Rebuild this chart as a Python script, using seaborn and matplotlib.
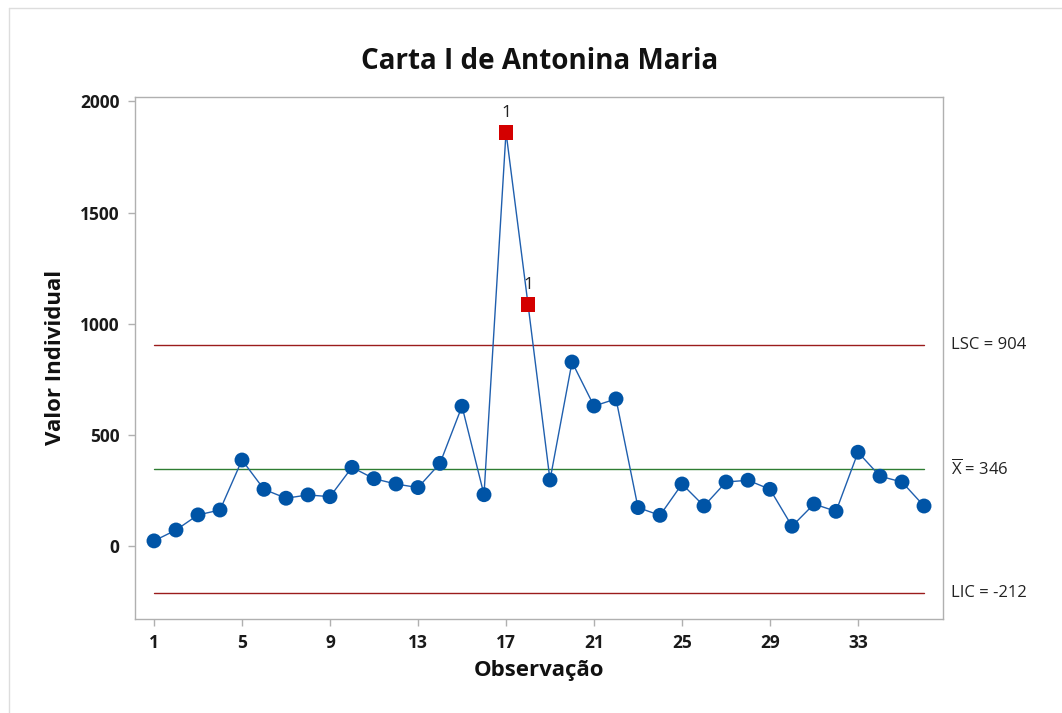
import pandas as pd
import matplotlib.pyplot as plt
import seaborn as sns
from matplotlib.lines import Line2D
import matplotlib.transforms as mtransforms

# Individual values
observations = list(range(1, 37))
values = [22, 71, 139, 161, 386, 254, 214, 229, 221, 353,
          302, 278, 262, 371, 628, 230, 1862, 1087, 296, 827,
          629, 661, 172, 137, 278, 179, 287, 295, 254, 88,
          188, 155, 421, 313, 287, 179]
out_of_control = [17, 18]

# Control limits
limit_names = ['LSC', 'X', 'LIC']
limit_values = [904, 346, -212]
limit_labels = ['LSC = 904', r'$\overline{\mathrm{X}}$ = 346', 'LIC = -212']
limit_colors = ['#9b1c1c', '#2e7d32', '#9b1c1c']

x_ticks = [1, 5, 9, 13, 17, 21, 25, 29, 33]
y_ticks = [0, 500, 1000, 1500, 2000]

df = pd.DataFrame({'Observação': observations, 'Valor': values})
df['status'] = ['fora' if o in out_of_control else 'ok' for o in df['Observação']]

sns.set_theme(style='white')
plt.rcParams['font.family'] = ['Open Sans', 'DejaVu Sans']
plt.rcParams['mathtext.fontset'] = 'custom'
plt.rcParams['mathtext.rm'] = 'Open Sans'

fig = plt.figure(figsize=(10.62, 7.13), dpi=100)
ax = fig.add_axes([0.1271, 0.132, 0.7608, 0.732])

# connecting line
sns.lineplot(data=df, x='Observação', y='Valor', ax=ax, color='#1f5fae',
             linewidth=1.0, zorder=2)

# control limit lines
for val, col in zip(limit_values, limit_colors):
    ax.plot([observations[0], observations[-1]], [val, val], color=col,
            linewidth=1.0, zorder=1)

# points
sns.scatterplot(data=df, x='Observação', y='Valor', hue='status', style='status',
                palette={'ok': '#0054a6', 'fora': '#d40000'},
                markers={'ok': 'o', 'fora': 's'}, s=115, linewidth=0,
                legend=False, ax=ax, zorder=3)

# "1" flags on out-of-control points
for o in out_of_control:
    v = df.loc[df['Observação'] == o, 'Valor'].iloc[0]
    ax.annotate('1', (o, v), xytext=(0, 8), textcoords='offset points',
                ha='center', va='bottom', fontsize=12.5, color='#222222')

# right side labels
trans = mtransforms.blended_transform_factory(ax.transAxes, ax.transData)
for lab, val in zip(limit_labels, limit_values):
    ax.text(1.01, val, lab, transform=trans, ha='left', va='center',
            fontsize=12, color='#222222')

ax.set_xlim(0.136, 36.86)
ax.set_ylim(-329, 2020)
ax.set_xticks(x_ticks)
ax.set_yticks(y_ticks)
ax.tick_params(axis='both', direction='out', length=5, width=1, color='#b0b0b0',
               labelsize=12.5, labelcolor='#1a1a1a', pad=6)
ax.tick_params(axis='both', which='both', bottom=True, left=True)
for lbl in ax.get_xticklabels() + ax.get_yticklabels():
    lbl.set_fontweight('bold')
for sp in ax.spines.values():
    sp.set_color('#b0b0b0')
    sp.set_linewidth(1.0)

ax.set_xlabel('Observação', fontsize=16, fontweight='bold', color='#111111', labelpad=6)
ax.set_ylabel('Valor Individual', fontsize=16, fontweight='bold', color='#111111', labelpad=10)

fig.text(0.508, 0.914, 'Carta I de Antonina Maria', ha='center', va='center',
         fontsize=20, fontweight='bold', color='#111111')

# thin window border from the original screenshot
fig.add_artist(Line2D([9 / 1062, 1], [1 - 8 / 713, 1 - 8 / 713],
                      transform=fig.transFigure, color='#dddddd', linewidth=1))
fig.add_artist(Line2D([9 / 1062, 9 / 1062], [0, 1 - 8 / 713],
                      transform=fig.transFigure, color='#dddddd', linewidth=1))

fig.savefig('out.png', dpi=100)
